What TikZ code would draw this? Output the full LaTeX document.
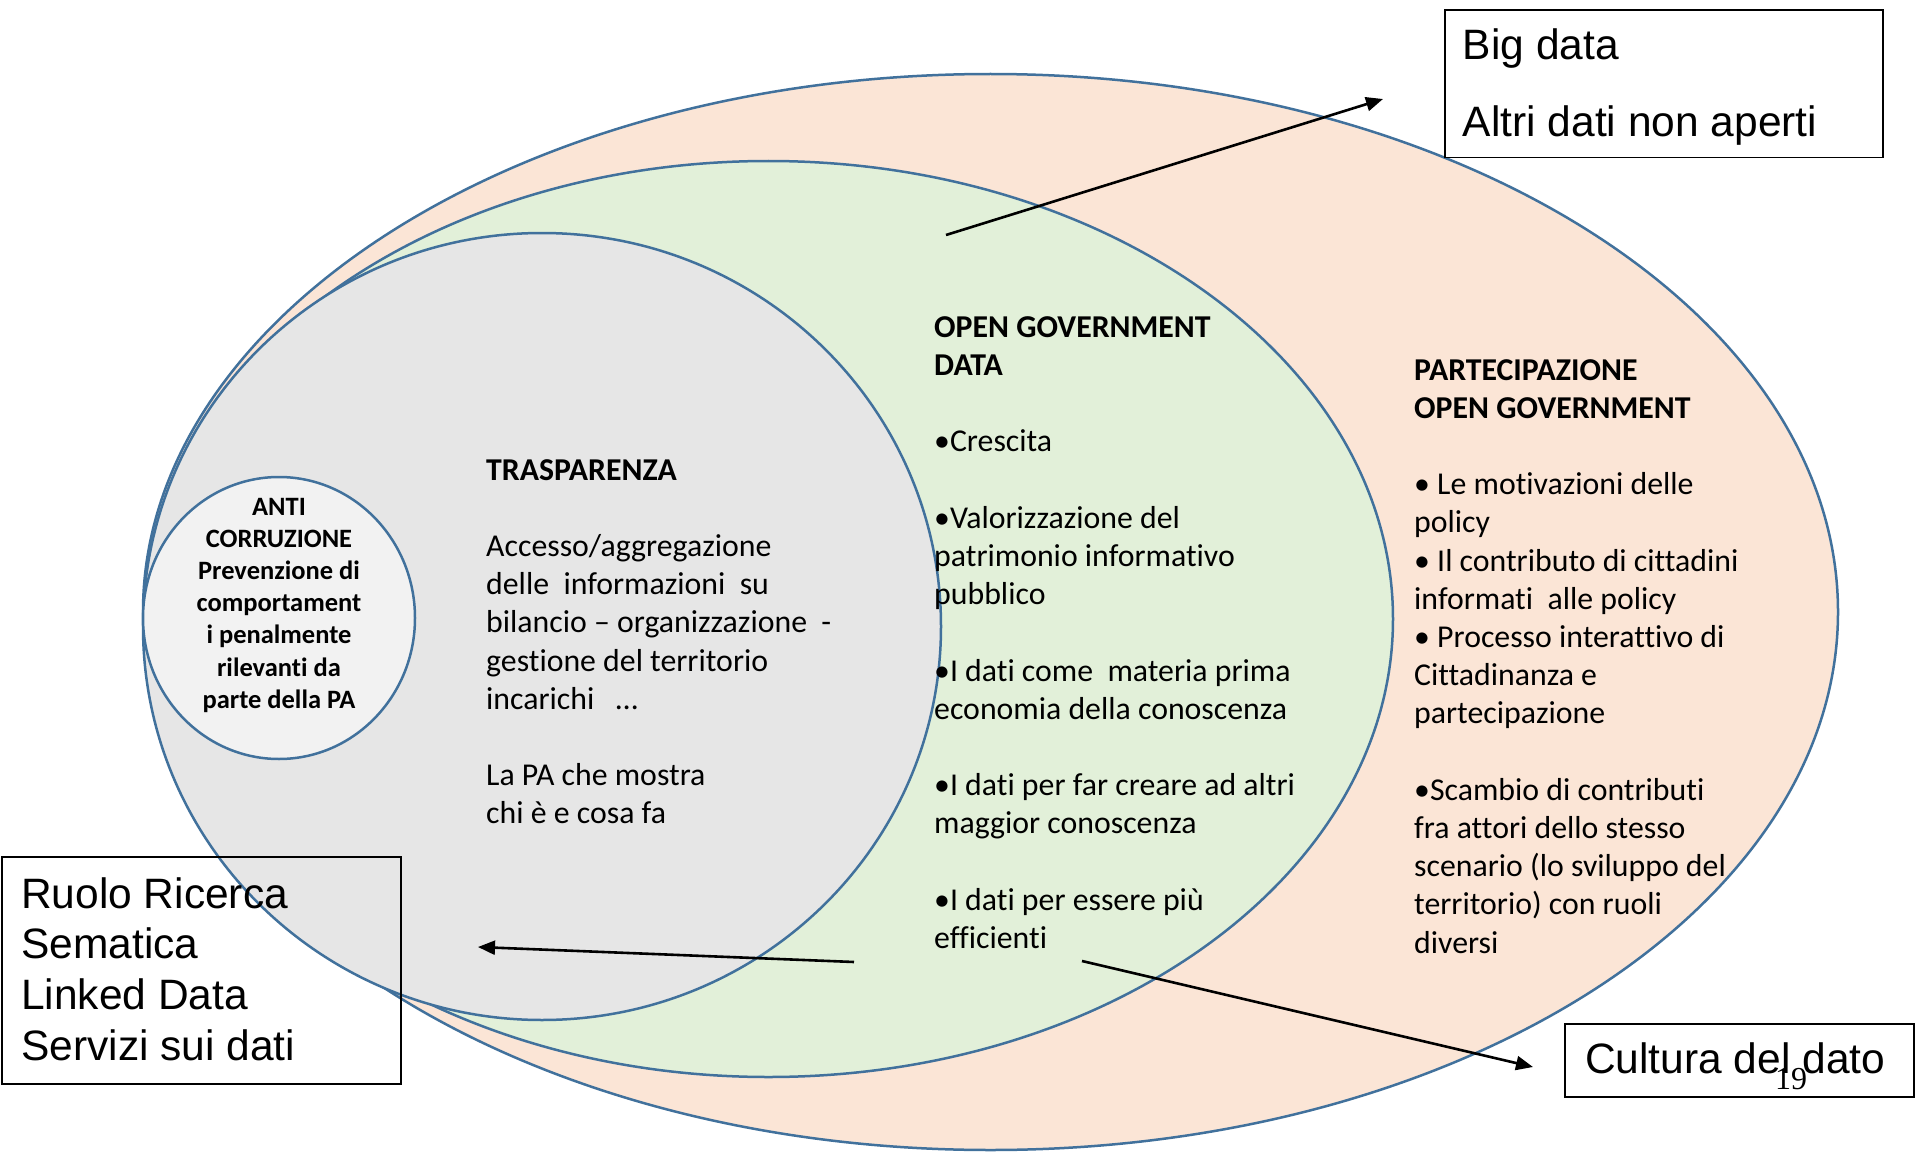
\documentclass[tikz,border=0pt]{standalone}
\usepackage{fontspec}
\setmainfont{Carlito}[Ligatures={TeX,NoCommon}]
\newfontfamily\arialf{Liberation Sans}
\newfontfamily\timesf{Liberation Serif}
\usetikzlibrary{shapes.geometric,arrows.meta}
\definecolor{peach}{HTML}{FBE5D6}
\definecolor{lgreen}{HTML}{E2F0D9}
\definecolor{lgray}{HTML}{E6E6E6}
\definecolor{lwhite}{HTML}{F2F2F2}
\definecolor{edgeblue}{HTML}{41719C}
\begin{document}
\begin{tikzpicture}[x=1pt,y=-1pt,
  ell/.style={ellipse, draw=edgeblue, line width=2.5pt, inner sep=0pt, outer sep=0pt},
  txt/.style={anchor=base west, inner sep=0pt, font=\fontsize{31.8}{38.2}\selectfont},
  antitxt/.style={anchor=base, inner sep=0pt, font=\bfseries\fontsize{26.5}{32.2}\selectfont},
  frame/.style={rectangle, draw=black, line width=1.8pt, inner sep=0pt, anchor=north west},
  arr/.style={-{Triangle[length=17pt,width=14pt]}, line width=2.6pt, black}]
\useasboundingbox (0,0) rectangle (1915,1153);
\fill[white] (0,0) rectangle (1915,1153);

% ellipses
\node[ell, fill=peach, minimum width=1695pt, minimum height=1076pt] (part) at (990.5,612) {};
\node[ell, fill=lgreen, minimum width=1249pt, minimum height=916pt] (ogd) at (768.5,619) {};
\node[ell, fill=lgray, minimum width=798pt, minimum height=787pt] (trasp) at (542,626.5) {};
\node[ell, fill=lwhite, minimum width=272pt, minimum height=282pt] (anti) at (279,618) {};

% anti corruzione text
\node[antitxt] (antitext) at (279,515) {\begin{tabular}[t]{@{}c@{}}
ANTI\\
CORRUZIONE\\
Prevenzione di\\
comportament\\
i penalmente\\
rilevanti da\\
parte della PA
\end{tabular}};

% trasparenza text
\node[txt] (trasptext) at (486,480) {\begin{tabular}[t]{@{}l@{}}
\textbf{TRASPARENZA}\\
\\
Accesso/aggregazione\\
delle\ \ informazioni\ \ su\\
bilancio – organizzazione\ \ -\\
gestione del territorio\\
incarichi\ \ \ …\\
\\
La PA che mostra\\
chi è e cosa fa
\end{tabular}};

% open government data text
\node[txt] (ogdtext) at (934,337.3) {\begin{tabular}[t]{@{}l@{}}
\textbf{OPEN GOVERNMENT}\\
\textbf{DATA}\\
\\
•Crescita\\
\\
•Valorizzazione del\\
patrimonio informativo\\
pubblico\\
\\
•I dati come\ \ materia prima\\
economia della conoscenza\\
\\
•I dati per far creare ad altri\\
maggior conoscenza\\
\\
•I dati per essere più\\
efficienti
\end{tabular}};

% partecipazione text
\node[txt] (parttext) at (1414,380) {\begin{tabular}[t]{@{}l@{}}
\textbf{PARTECIPAZIONE}\\
\textbf{OPEN GOVERNMENT}\\
\\
• Le motivazioni delle\\
policy\\
• Il contributo di cittadini\\
informati\ \ alle policy\\
• Processo interattivo di\\
Cittadinanza e\\
partecipazione\\
\\
•Scambio di contributi\\
fra attori dello stesso\\
scenario (lo sviluppo del\\
territorio) con ruoli\\
diversi
\end{tabular}};

% boxes
\node[frame, fill=white, minimum width=438pt, minimum height=147.4pt] (bigbox) at (1444,9.3) {};
\node[anchor=base west, inner sep=0pt, font=\arialf\fontsize{42.5}{76.7}\selectfont] (bigtext) at (1462.7,60) {\begin{tabular}[t]{@{}l@{}}
Big data\\
Altri dati non aperti
\end{tabular}};

\node[frame, minimum width=399pt, minimum height=227pt] (ruolobox) at (1,855.7) {};
\node[anchor=base west, inner sep=0pt, font=\arialf\fontsize{42.5}{50.7}\selectfont] (ruolotext) at (21,908) {\begin{tabular}[t]{@{}l@{}}
Ruolo Ricerca\\
Sematica\\
Linked Data\\
Servizi sui dati
\end{tabular}};

\node[frame, fill=white, minimum width=349pt, minimum height=73pt] (culturabox) at (1564,1022.7) {};
\node[anchor=base west, inner sep=0pt, font=\arialf\fontsize{42.5}{50}\selectfont] (culturatext) at (1585,1073) {Cultura del dato};
\node[anchor=base west, inner sep=0pt, font=\timesf\fontsize{32}{34}\selectfont] (pagenum) at (1775,1089) {19};

% arrows
\coordinate (a1s) at (946,235);
\coordinate (a1e) at (1383,99);
\coordinate (a2s) at (854,962);
\coordinate (a2e) at (478,947);
\coordinate (a3s) at (1082,961);
\coordinate (a3e) at (1533,1067);
\draw[arr] (a1s) -- (a1e);
\draw[arr] (a2s) -- (a2e);
\draw[arr] (a3s) -- (a3e);
\end{tikzpicture}
\end{document}
